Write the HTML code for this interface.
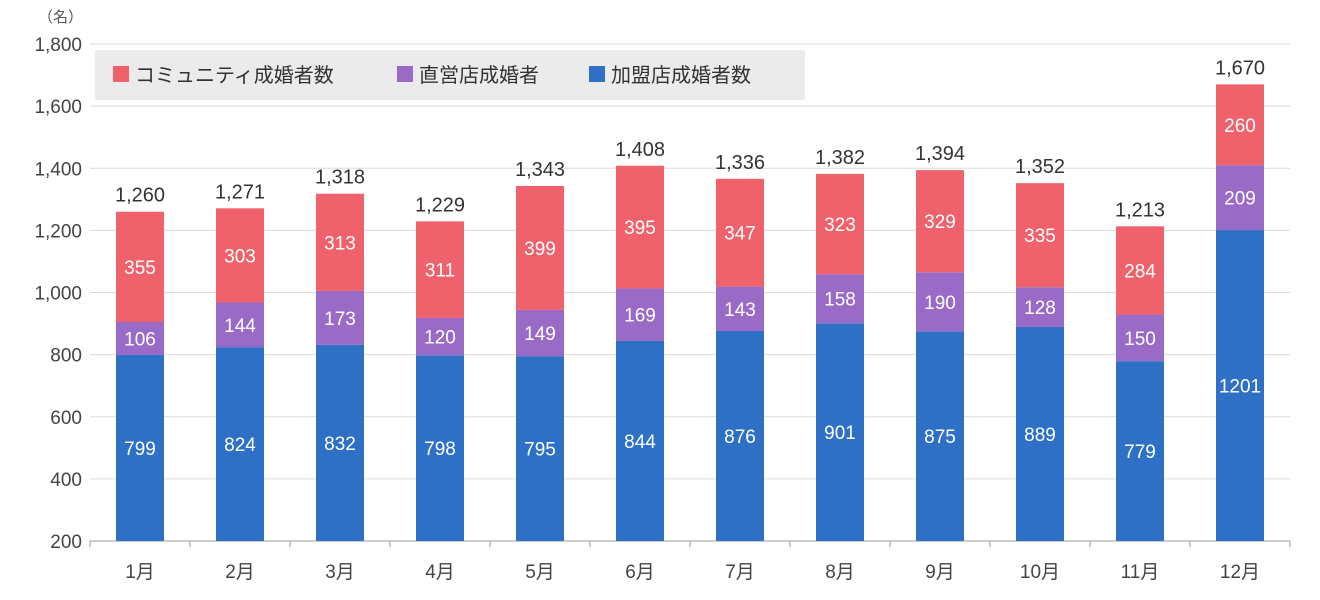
<!DOCTYPE html>
<html><head><meta charset="utf-8"><style>
body{margin:0;background:#fff;}
svg{display:block;font-family:"Liberation Sans","Noto Sans CJK JP",sans-serif;}
</style></head><body>
<svg id="chart" width="1320" height="600" viewBox="0 0 1320 600">
<text x="38" y="22" font-size="15" fill="#555">（名）</text>
<g id="grid"></g><g id="bars"></g><g id="labels"></g>
<g>
<rect x="95" y="50" width="710" height="50" fill="#ebebeb"/>
<g><rect x="113" y="66" width="16" height="16" fill="#ef626c"/><text x="135" y="82" font-size="20" fill="#333">コミュニティ成婚者数</text></g>
<g><rect x="397" y="66" width="16" height="16" fill="#9a6bc6"/><text x="419" y="82" font-size="20" fill="#333">直営店成婚者</text></g>
<g><rect x="589" y="66" width="16" height="16" fill="#2e70c6"/><text x="611" y="82" font-size="20" fill="#333">加盟店成婚者数</text></g>
</g>
</svg>
<script>
const categories=["1月","2月","3月","4月","5月","6月","7月","8月","9月","10月","11月","12月"];
const franchise=[799,824,832,798,795,844,876,901,875,889,779,1201];
const direct=[106,144,173,120,149,169,143,158,190,128,150,209];
const community=[355,303,313,311,399,395,347,323,329,335,284,260];
const totals=[1260,1271,1318,1229,1343,1408,1336,1382,1394,1352,1213,1670];
const yTicks=[200,400,600,800,1000,1200,1400,1600,1800];
const NS="http://www.w3.org/2000/svg";
const y0=541,y1=44,vmin=200,vmax=1800;
const y=v=>y0-(v-vmin)*(y0-y1)/(vmax-vmin);
const x=i=>140+100*i;
const bw=48;
function el(t,a,p){const e=document.createElementNS(NS,t);for(const k in a)e.setAttribute(k,a[k]);p.appendChild(e);return e;}
const grid=document.getElementById('grid'),bars=document.getElementById('bars'),labels=document.getElementById('labels');
yTicks.forEach(v=>{
 const l=el('line',{x1:90,x2:1290,y1:y(v),y2:y(v),stroke:v===200?'#999':'#dcdcdc','stroke-width':1},grid);
 
 
 const t=el('text',{x:82,y:y(v)+7,'text-anchor':'end','font-size':19,fill:'#444'},grid);
 t.textContent=v.toLocaleString('en-US');
 
 
});
for(let i=0;i<=12;i++){
 const l=el('line',{x1:90+100*i,x2:90+100*i,y1:541,y2:547,stroke:'#999'},grid);
 
 
}
const series=[[franchise,'#2e70c6','franchise'],[direct,'#9a6bc6','direct'],[community,'#ef626c','community']];
categories.forEach((c,i)=>{
 let base=0;
 series.forEach(([arr,col,nm])=>{
  const lo=base===0?vmin:base, hi=base===0?arr[i]:base+arr[i];
  const r=el('rect',{x:x(i)-bw/2,y:y(hi),width:bw,height:y(lo)-y(hi),fill:col},bars);
  
  
  const t=el('text',{x:x(i),y:(y(lo)+y(hi))/2+7,'text-anchor':'middle','font-size':19,fill:'#fff'},labels);
  t.textContent=arr[i];
  
  
  base=hi;
 });
 const tt=el('text',{x:x(i),y:y(base)-10,'text-anchor':'middle','font-size':20,fill:'#333'},labels);
 tt.textContent=totals[i].toLocaleString('en-US');
 
 
 const xl=el('text',{x:x(i),y:578,'text-anchor':'middle','font-size':19,fill:'#444'},labels);
 xl.textContent=c;
 
 
});
</script>
</body></html>
